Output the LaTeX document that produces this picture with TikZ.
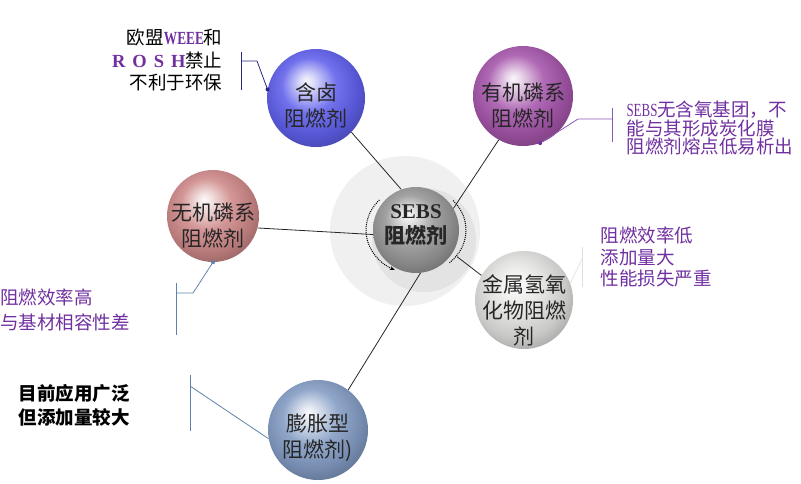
\documentclass[tikz,border=0pt]{standalone}
\usepackage{fontspec}
\setmainfont{Noto Sans CJK SC}
\newfontfamily\serif{Liberation Serif}
\usepackage{xcolor}
\usetikzlibrary{arrows.meta}

\definecolor{halblue}{RGB}{95,95,235}
\definecolor{orgpurple}{RGB}{165,85,170}
\definecolor{inorgrose}{RGB}{205,135,135}
\definecolor{metalwhite}{RGB}{222,222,220}
\definecolor{ifrsteel}{RGB}{130,155,195}
\definecolor{sebsgray}{RGB}{150,150,150}
\definecolor{notepurple}{RGB}{112,48,160}
\definecolor{navyline}{RGB}{40,40,130}
\definecolor{steelline}{RGB}{95,130,170}

\colorlet{glosscol}{gray}
\pgfdeclareradialshading[glosscol]{glossy}{\pgfqpoint{-5bp}{9bp}}{%
  color(0bp)=(glosscol!5!white); color(4bp)=(glosscol!25!white);
  color(14bp)=(glosscol!88!white); color(24bp)=(glosscol!90!black);
  color(32bp)=(glosscol!72!black); color(50bp)=(glosscol!72!black)}

\begin{document}
\begin{tikzpicture}[x=1pt, y=-1pt,
    tint/.code={\colorlet{glosscol}{#1}},
    ball/.style={circle, minimum size=#1, inner sep=0pt, shading=glossy},
    balltext/.style={align=center, text=black!85, font=\fontsize{21}{26}\selectfont},
    note/.style={align=left, font=\fontsize{18.5}{#1}\selectfont},
    link/.style={draw=black!85, line width=0.8pt},
    hook/.style={draw=#1, line width=0.8pt}]
    \useasboundingbox (0,0) rectangle (801,483);

    % halo round the centre
    \fill[gray!12] (405,231) circle[radius=75];
    \fill[gray!22] (424,240) circle[radius=52];

    % balls
    \node[ball=98pt, tint=halblue] (hal) at (316,98) {};
    \node[ball=100pt, tint=orgpurple] (org) at (523,96) {};
    \node[ball=92pt, tint=inorgrose] (inorg) at (213,216) {};
    \node[ball=98pt, tint=metalwhite] (metal) at (524,300) {};
    \node[ball=100pt, tint=ifrsteel] (ifr) at (318,430) {};
    \node[ball=86pt, tint=sebsgray] (sebs) at (416,230) {};

    \node[balltext] (hal-t) at ([yshift=-7pt]hal.center) {含卤\\阻燃剂};
    \node[balltext] (org-t) at ([yshift=-9pt]org.center) {有机磷系\\阻燃剂};
    \node[balltext] (inorg-t) at ([yshift=-9pt]inorg.center) {无机磷系\\阻燃剂};
    \node[balltext] (metal-t) at ([yshift=-10pt]metal.center) {金属氢氧\\化物阻燃\\剂};
    \node[balltext] (ifr-t) at ([yshift=-8pt]ifr.center) {膨胀型\\阻燃剂)};
    \node[balltext, font=\fontsize{21}{25}\selectfont\bfseries] (sebs-t) at ([yshift=5pt]sebs.center) {{\serif SEBS}\\阻燃剂};

    % dotted ring
    \draw[densely dotted, line width=1pt, -{Stealth[length=5pt]}]
        ([shift={(-137:50 and 44)}]sebs.center) arc[start angle=-137, end angle=-245, x radius=50, y radius=44];
    \draw[densely dotted, line width=1pt]
        ([shift={(-42:50 and 44)}]sebs.center) arc[start angle=-42, end angle=48, x radius=50, y radius=44];

    % links to the centre
    \draw[link] (hal.-44) -- (sebs.110);
    \draw[link] (org.241) -- (sebs.30);
    \draw[link] (inorg.-15) -- (sebs.186);
    \draw[link] (metal.150) -- ([shift={(-33:49 and -49)}]sebs.center);
    \draw[link] (ifr.53) -- (sebs.276);

    % notes
    \node[note=22.5, align=right, anchor=east] (weee) at (226,60)
        {欧盟{\serif\bfseries\color{notepurple}\scalebox{0.72}[1]{WEEE}}和\\
         {\serif\bfseries\color{notepurple}R\hspace{7pt}O\hspace{7pt}S\hspace{7pt}H}禁止\\
         不利于环保};
    \node[note=18.5, anchor=west, text=notepurple] (oxy) at (623,128)
        {\scalebox{0.7}[1]{\serif SEBS}无含氧基团，不\\能与其形成炭化膜\\阻燃剂熔点低易析出};
    \node[note=21.5, anchor=west, text=notepurple] (eff) at (597,257)
        {阻燃效率低\\添加量大\\性能损失严重};
    \node[note=25, anchor=west, text=notepurple, inner sep=0pt] (compat) at (0,310)
        {阻燃效率高\\与基材相容性差};
    \node[note=24, anchor=west, font=\fontsize{18.5}{24}\selectfont\bfseries] (wide) at (15,405)
        {目前应用广泛\\但添加量较大};

    % callout hooks
    \coordinate (h1a) at (241,52);  \coordinate (h1b) at (241,90);
    \coordinate (h1m) at (241,61);  \coordinate (h1k) at (257,61);
    \draw[hook=navyline] (h1a) -- (h1b);
    \draw[hook=navyline] (h1m) -- (h1k) -- (hal.170);
    \fill[navyline] (hal.170) circle[radius=2];

    \coordinate (h2a) at (612,108); \coordinate (h2b) at (612,142);
    \coordinate (h2m) at (612,119); \coordinate (h2k) at (578,119);
    \draw[hook=notepurple!80] (h2a) -- (h2b);
    \draw[hook=notepurple!80] (h2m) -- (h2k) -- (org.-70);
    \fill[notepurple] (org.-70) circle[radius=2];

    \coordinate (h3a) at (582,247); \coordinate (h3b) at (582,287);
    \coordinate (h3m) at (582,259);
    \draw[hook=gray!25] (h3a) -- (h3b);
    \draw[hook=gray!20] (h3m) -- (metal.20);

    \coordinate (h4a) at (176,283); \coordinate (h4b) at (176,335);
    \coordinate (h4m) at (176,293); \coordinate (h4k) at (193,293);
    \draw[hook=steelline] (h4a) -- (h4b);
    \draw[hook=steelline] (h4m) -- (h4k) -- (inorg.-90);
    \fill[steelline] (inorg.-90) circle[radius=2];

    \coordinate (h5a) at (190,375); \coordinate (h5b) at (190,431);
    \coordinate (h5m) at (190,386);
    \draw[hook=steelline] (h5a) -- (h5b);
    \draw[hook=steelline] (h5m) -- (ifr.190);
\end{tikzpicture}
\end{document}
